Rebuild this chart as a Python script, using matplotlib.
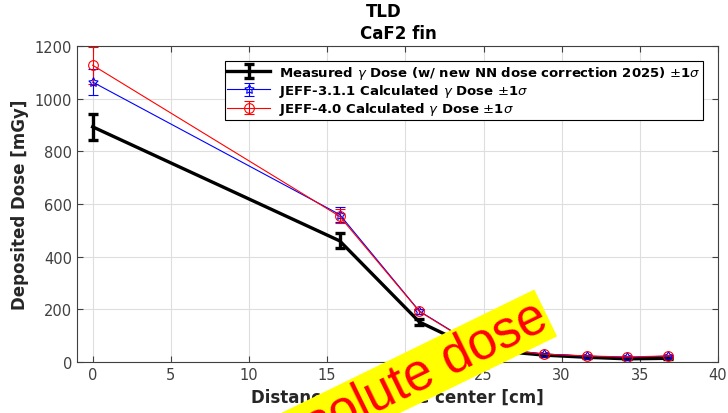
import matplotlib
matplotlib.use("Agg")
import matplotlib.pyplot as plt

# distances from center [cm]
dist = [0, 15.8, 20.9, 23.6, 26.3, 28.9, 31.6, 34.2, 36.8]

# measured gamma dose (new NN dose correction 2025)
meas = [893, 460, 152, 75, 40, 26, 18, 12, 14]
meas_err = [50, 28, 12, 6, 4, 3, 2, 2, 2]

# JEFF-3.1.1 calculated gamma dose
jeff311 = [1063, 560, 193, 95, 48, 30, 22, 18, 22]
jeff311_err = [50, 27, 10, 5, 3, 2, 2, 2, 2]

# JEFF-4.0 calculated gamma dose
jeff40 = [1127, 553, 192, 93, 47, 30, 23, 19, 23]
jeff40_err = [70, 27, 10, 5, 3, 2, 2, 2, 2]

labels = [
    r"Measured $\gamma$ Dose (w/ new NN dose correction 2025) $\pm$1$\sigma$",
    r"JEFF-3.1.1 Calculated $\gamma$ Dose $\pm$1$\sigma$",
    r"JEFF-4.0 Calculated $\gamma$ Dose $\pm$1$\sigma$",
]

axcol = "#404040"

fig = plt.figure(figsize=(7.28, 4.14), dpi=100)
ax = fig.add_axes([0.1058, 0.1232, 0.8805, 0.7633])

ax.errorbar(dist, meas, yerr=meas_err, color="black", lw=2.4, elinewidth=2.4,
            capsize=3.5, capthick=2.4, label=labels[0])
ax.errorbar(dist, jeff311, yerr=jeff311_err, color="blue", lw=0.8, elinewidth=0.8,
            capsize=3.5, marker=(5, 1, 0), ms=7, mfc="none", mew=0.8, label=labels[1])
ax.errorbar(dist, jeff40, yerr=jeff40_err, color="red", lw=0.8, elinewidth=0.8,
            capsize=3.5, marker="o", ms=7, mfc="none", mew=0.8, label=labels[2])

ax.set_xlim(-1, 40)
ax.set_ylim(0, 1200)
ax.set_xticks(range(0, 41, 5))
ax.set_yticks(range(0, 1201, 200))
ax.grid(True, color="#dedede", lw=0.8)
ax.set_axisbelow(True)
ax.tick_params(direction="in", top=True, right=True, length=4, colors=axcol,
               labelsize=10.5, labelcolor=axcol)
for s in ax.spines.values():
    s.set_color(axcol)

ax.set_xlabel("Distance from core center [cm]", fontsize=12, fontweight="bold", color="#262626")
ax.set_ylabel("Deposited Dose [mGy]", fontsize=12, fontweight="bold", color="#262626")

fig.text(384 / 728, 1 - 12 / 414, "TLD", ha="center", va="center", fontsize=12, fontweight="bold")
fig.text(398 / 728, 1 - 34 / 414, "CaF2 fin", ha="center", va="center", fontsize=12, fontweight="bold")

leg = ax.legend(loc="upper right", bbox_to_anchor=(0.9766, 0.9525),
                prop={"weight": "bold", "size": 9.5}, frameon=True, fancybox=False,
                edgecolor="black", framealpha=1, handlelength=3.2, borderpad=0.2,
                labelspacing=0.1, borderaxespad=0, handletextpad=0.7)
leg.get_frame().set_linewidth(0.8)

# stamp across the bottom
fig.text(398 / 728, 1 - 386 / 414, "Absolute dose", rotation=26, ha="center", va="center",
         fontsize=37, color="red", family="Liberation Sans", rotation_mode="anchor",
         bbox=dict(facecolor="yellow", edgecolor="none", pad=1))

fig.savefig("out.png", dpi=100)
